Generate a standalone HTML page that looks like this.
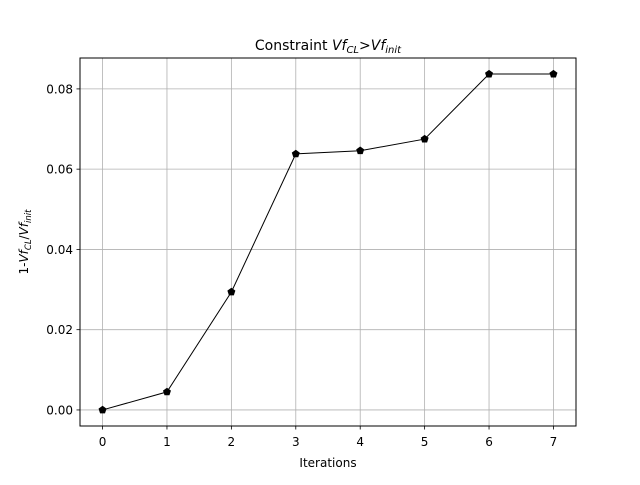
<!DOCTYPE html>
<html><head><meta charset="utf-8"><style>
body{margin:0;background:#fff;font-family:"Liberation Sans","DejaVu Sans",sans-serif;}
svg text{font-family:"DejaVu Sans","Liberation Sans",sans-serif;}
</style></head><body>
<svg id="chart" width="640" height="480" xmlns="http://www.w3.org/2000/svg">
<rect width="640" height="480" fill="#fff"/>
<g id="grid"></g><g id="ticks"></g><g id="series"></g>
<rect x="80" y="58" width="496" height="368" fill="none" stroke="#000" stroke-width="1"/>
<text x="328" y="50" font-size="14" text-anchor="middle">Constraint <tspan font-style="italic">Vf</tspan><tspan font-style="italic" font-size="10" dy="3">CL</tspan><tspan dy="-3">&gt;</tspan><tspan font-style="italic">Vf</tspan><tspan font-style="italic" font-size="10" dy="3">init</tspan></text>
<text x="328" y="467" font-size="12" text-anchor="middle">Iterations</text>
<text transform="translate(28,242) rotate(-90)" font-size="12" text-anchor="middle">1-<tspan font-style="italic">Vf</tspan><tspan font-style="italic" font-size="8.5" dy="3">CL</tspan><tspan dy="-3">/</tspan><tspan font-style="italic">Vf</tspan><tspan font-style="italic" font-size="8.5" dy="3">init</tspan></text>
</svg>
<script>
const iterations=[0,1,2,3,4,5,6,7];
const values=[0,0.0045,0.0294,0.0638,0.0646,0.0675,0.0837,0.0837];
const yTicks=[0,0.02,0.04,0.06,0.08];
const yTickLabels=["0.00","0.02","0.04","0.06","0.08"];
const NS="http://www.w3.org/2000/svg";
const x=v=>80+(v+0.35)/7.7*496;
const y=v=>426-(v+0.004)/0.0917*368;
function mk(t,a,p){const e=document.createElementNS(NS,t);for(const k in a)e.setAttribute(k,a[k]);p.appendChild(e);return e;}
const g=document.getElementById('grid'),tk=document.getElementById('ticks'),s=document.getElementById('series');
iterations.forEach(i=>{
 const l=mk('line',{x1:x(i),x2:x(i),y1:58,y2:426,stroke:'#b0b0b0','stroke-width':0.8},g);
 
 const t=mk('line',{x1:x(i),x2:x(i),y1:426,y2:429.5,stroke:'#000','stroke-width':0.8},tk);
 
 const tx=mk('text',{x:x(i),y:446,'font-size':12,'text-anchor':'middle'},tk);tx.textContent=i;
 
});
yTicks.forEach((v,k)=>{
 const l=mk('line',{x1:80,x2:576,y1:y(v),y2:y(v),stroke:'#b0b0b0','stroke-width':0.8},g);
 
 const t=mk('line',{x1:76.5,x2:80,y1:y(v),y2:y(v),stroke:'#000','stroke-width':0.8},tk);
 
 const tx=mk('text',{x:73,y:y(v)+4.5,'font-size':12,'text-anchor':'end'},tk);tx.textContent=yTickLabels[k];
 
});
const pl=mk('polyline',{points:iterations.map((i,k)=>x(i)+','+y(values[k])).join(' '),fill:'none',stroke:'#000','stroke-width':1},s);

iterations.forEach((i,k)=>{
 const cx=x(i),cy=y(values[k]),r=4.2,pts=[];
 for(let j=0;j<5;j++){const a=-Math.PI/2+j*2*Math.PI/5;pts.push((cx+r*Math.cos(a))+','+(cy+r*Math.sin(a)));}
 const m=mk('polygon',{points:pts.join(' '),fill:'#000'},s);
 
});
</script>
</body></html>
